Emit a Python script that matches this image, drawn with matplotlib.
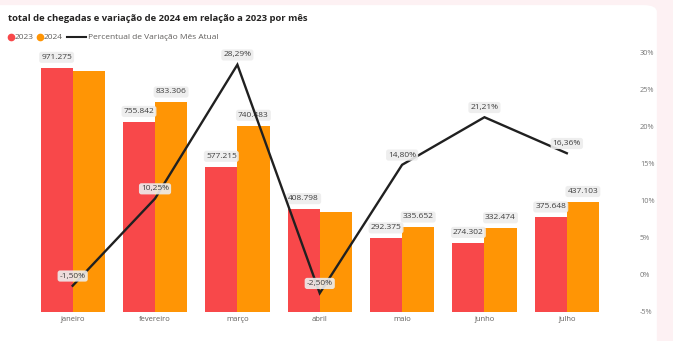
import numpy as np
import matplotlib.pyplot as plt
from matplotlib.patches import FancyBboxPatch
from matplotlib.lines import Line2D

plt.rcParams['font.family'] = ['Open Sans', 'DejaVu Sans']

# dados
meses = ['janeiro', 'fevereiro', 'março', 'abril', 'maio', 'junho', 'julho']
chegadas_2023 = [971275, 755842, 577215, 408798, 292375, 274302, 375648]
chegadas_2024 = [956700, 833306, 740483, 398600, 335652, 332474, 437103]
rotulo_2024 = [False, True, True, False, True, True, True]
variacao = [-1.50, 10.25, 28.29, -2.50, 14.80, 21.21, 16.36]
ticks_pct = [-5, 0, 5, 10, 15, 20, 25, 30]

cor_2023 = '#F8484A'
cor_2024 = '#FF9505'
cinza = '#605E5C'


def fmt_num(v):
    return f'{v:,}'.replace(',', '.')


def fmt_pct(p):
    return f'{p:.2f}%'.replace('.', ',')


caixa = dict(boxstyle='round,pad=0.25,rounding_size=0.3', fc='#EDEDED', ec='none', alpha=0.9)

fig = plt.figure(figsize=(6.73, 3.41), dpi=100)
fig.patch.set_facecolor('#FDF1F3')
card = FancyBboxPatch((-0.02, -0.05), 0.996, 1.035, transform=fig.transFigure,
                      boxstyle='round,pad=0,rounding_size=0.02', fc='white', ec='none',
                      zorder=-10)
fig.patches.append(card)

ax = fig.add_axes([0.0468, 0.0859, 0.8566, 0.7616])
ax.set_facecolor('none')
x = np.arange(len(meses))
w = 0.39
ax.bar(x - w / 2, chegadas_2023, w, color=cor_2023)
ax.bar(x + w / 2, chegadas_2024, w, color=cor_2024)
ax.set_ylim(0, 1034000)
ax.set_xlim(-0.5, len(meses) - 0.5)
ax.set_yticks([])
ax.set_xticks(x)
ax.set_xticklabels(meses, fontsize=5.5, color=cinza)
ax.tick_params(axis='x', length=0, pad=3)
for s in ax.spines.values():
    s.set_visible(False)

for i in range(len(meses)):
    ax.annotate(fmt_num(chegadas_2023[i]), (x[i] - w / 2, chegadas_2023[i]),
                xytext=(0, 7.5), textcoords='offset points', ha='center', va='center',
                fontsize=6, color='#404040', bbox=caixa)
    if rotulo_2024[i]:
        ax.annotate(fmt_num(chegadas_2024[i]), (x[i] + w / 2, chegadas_2024[i]),
                    xytext=(0, 7.5), textcoords='offset points', ha='center', va='center',
                    fontsize=6, color='#404040', bbox=caixa)

ax2 = ax.twinx()
ax2.plot(x, variacao, color='#202020', lw=1.7, solid_joinstyle='miter')
ax2.set_ylim(-5, 30)
ax2.set_yticks(ticks_pct)
ax2.set_yticklabels([f'{t}%' for t in ticks_pct], fontsize=5.3, color='#777777')
ax2.tick_params(axis='y', length=0, pad=23)
for s in ax2.spines.values():
    s.set_visible(False)

for i in range(len(meses)):
    ax2.annotate(fmt_pct(variacao[i]), (x[i], variacao[i]),
                 xytext=(0, 7), textcoords='offset points', ha='center', va='center',
                 fontsize=6, color='#404040', bbox=caixa)

fig.text(0.012, 0.945, 'total de chegadas e variação de 2024 em relação a 2023 por mês',
         fontsize=6.8, fontweight='bold', color='#252423', va='center')

# legenda: círculos e linha em duas partes
circulos = [Line2D([], [], marker='o', ls='none', color=cor_2023, markersize=4.5),
            Line2D([], [], marker='o', ls='none', color=cor_2024, markersize=4.5)]
leg1 = fig.legend(circulos, ['2023', '2024'],
                  loc='center left', bbox_to_anchor=(0.011, 0.89), ncol=2, frameon=False,
                  fontsize=6, labelcolor=cinza, handlelength=0.8, handletextpad=0.1,
                  columnspacing=0.3, borderaxespad=0, borderpad=0)
linha = [Line2D([], [], color='#202020', lw=1.5)]
fig.legend(linha, ['Percentual de Variação Mês Atual'],
           loc='center left', bbox_to_anchor=(0.1, 0.89), frameon=False,
           fontsize=6, labelcolor=cinza, handlelength=2.3, handletextpad=0.2,
           borderaxespad=0, borderpad=0)

fig.savefig('out.png', dpi=100)
